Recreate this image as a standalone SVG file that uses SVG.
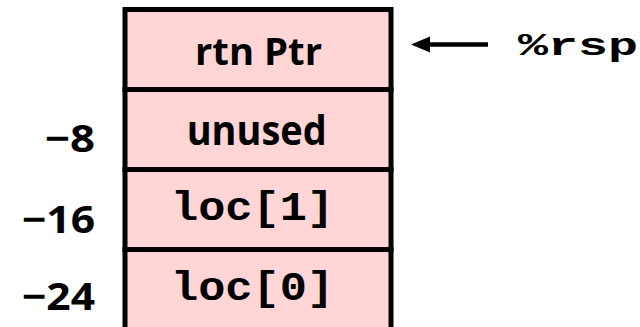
<svg xmlns="http://www.w3.org/2000/svg" width="640" height="327" viewBox="0 0 640 327">
  <style>
    .cell { fill: #FFD5D5; stroke: #000; stroke-width: 5; }
    .sans { font-family: "Open Sans", "Liberation Sans", sans-serif; font-weight: 700; fill: #000; }
    .mono { font-family: "Courier New", "Liberation Mono", monospace; font-weight: 700; fill: #000; }
    .conn { stroke: #000; stroke-width: 4.5; fill: none; }
  </style>
  <defs>
    <marker id="head" markerUnits="userSpaceOnUse" markerWidth="20" markerHeight="18" refX="2" refY="9" orient="auto">
      <path d="M0,1 L19,9 L0,17 Z" fill="#000"/>
    </marker>
  </defs>
  <rect width="640" height="327" fill="#fff"/>

  <!-- stack frame cells -->
  <g id="cell-rtn">
    <rect class="cell" x="125" y="9.5" width="266" height="80"/>
    <text class="sans" x="258.5" y="65" font-size="37" text-anchor="middle" textLength="127" lengthAdjust="spacingAndGlyphs">rtn Ptr</text>
  </g>
  <g id="cell-unused">
    <rect class="cell" x="125" y="89.5" width="266" height="80"/>
    <text class="sans" x="256.7" y="145" font-size="41" text-anchor="middle" textLength="140" lengthAdjust="spacingAndGlyphs">unused</text>
  </g>
  <g id="cell-loc1">
    <rect class="cell" x="125" y="169.5" width="266" height="80"/>
    <text class="mono" x="252.5" y="220" font-size="40" text-anchor="middle" textLength="163" lengthAdjust="spacingAndGlyphs">loc[1]</text>
  </g>
  <g id="cell-loc0">
    <rect class="cell" x="125" y="249.5" width="266" height="82"/>
    <text class="mono" x="252.5" y="300" font-size="40" text-anchor="middle" textLength="163" lengthAdjust="spacingAndGlyphs">loc[0]</text>
  </g>

  <!-- offsets -->
  <g id="offsets">
    <text class="sans" x="95" y="151.7" font-size="38" text-anchor="end" textLength="50" lengthAdjust="spacingAndGlyphs">−8</text>
    <text class="sans" x="95" y="233.3" font-size="38" text-anchor="end" textLength="73" lengthAdjust="spacingAndGlyphs">−16</text>
    <text class="sans" x="95" y="310" font-size="38" text-anchor="end" textLength="73" lengthAdjust="spacingAndGlyphs">−24</text>
  </g>

  <!-- stack pointer -->
  <g id="rsp">
    <text class="mono" x="518" y="55" font-size="31" textLength="120" lengthAdjust="spacingAndGlyphs">%rsp</text>
  </g>

  <g id="connectors">
    <line class="conn" x1="488" y1="44.5" x2="428" y2="44.5" marker-end="url(#head)"/>
  </g>
</svg>
